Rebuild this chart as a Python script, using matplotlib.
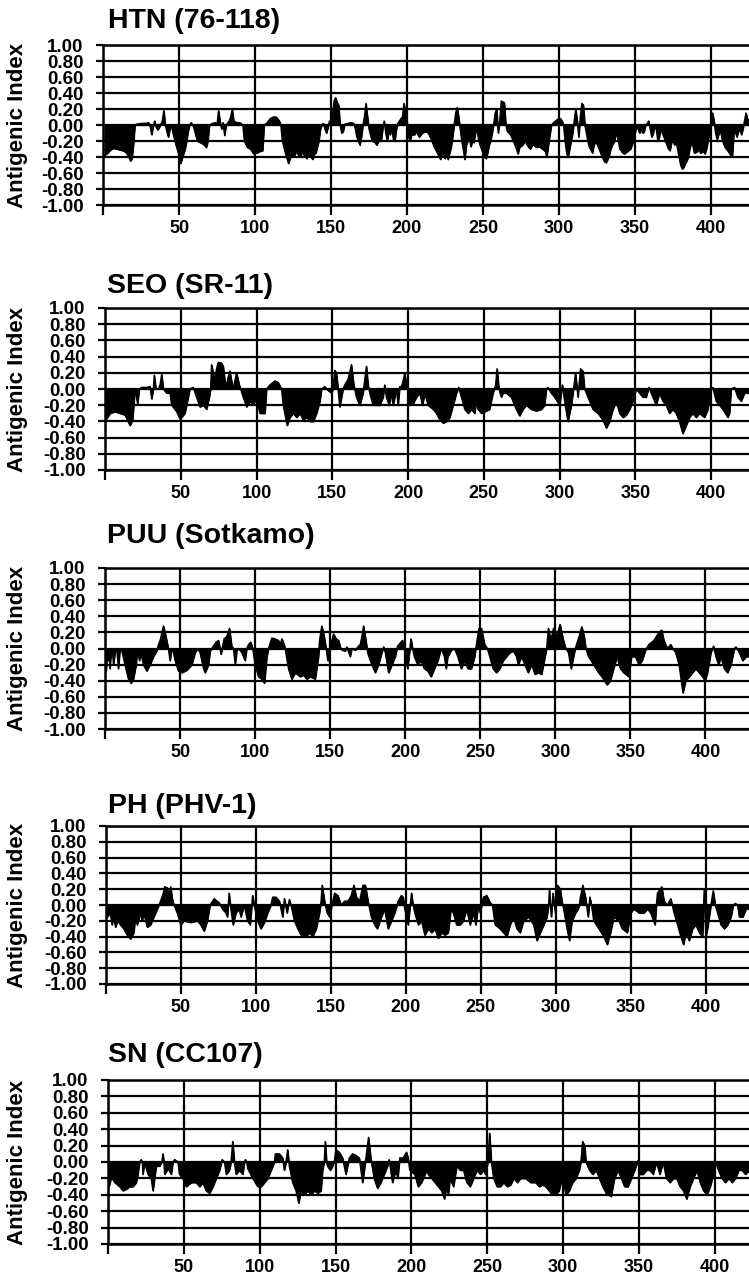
import matplotlib
matplotlib.use('Agg')
import matplotlib.pyplot as plt

plt.rcParams['font.family'] = ['Liberation Sans', 'DejaVu Sans']
plt.rcParams['font.weight'] = 'bold'
plt.rcParams['axes.unicode_minus'] = False

titles = ['HTN (76-118)', 'SEO (SR-11)', 'PUU (Sotkamo)', 'PH (PHV-1)', 'SN (CC107)']
ylabel = 'Antigenic Index'
xticks = [0, 50, 100, 150, 200, 250, 300, 350, 400]
xticklabels = ['', '50', '100', '150', '200', '250', '300', '350', '400']
yticks = [-1.0, -0.8, -0.6, -0.4, -0.2, 0.0, 0.2, 0.4, 0.6, 0.8, 1.0]

# antigenic index profiles, (residue, index)
htn = [(1,-0.38),(3,-0.35),(5,-0.31),(7,-0.29),(9,-0.30),(11,-0.31),(13,-0.32),(15,-0.34),(17,-0.40),(18,-0.45),(19,-0.42),(20,-0.25),(21,0.0),(22,0.01),(25,0.02),(28,0.02),(30,0.03),(31,-0.02),(32,-0.12),(33,-0.02),(34,0.05),(35,-0.03),(36,-0.06),(37,-0.03),(39,0.05),(40,0.18),(41,0.0),(42,-0.08),(43,-0.15),(44,-0.05),(45,0.0),(46,-0.10),(48,-0.25),(50,-0.38),(51,-0.48),(52,-0.42),(54,-0.30),(55,-0.20),(56,-0.08),(57,0.0),(58,0.03),(59,0.0),(60,-0.05),(62,-0.20),(64,-0.22),(66,-0.24),(68,-0.28),(69,-0.20),(70,0.0),(72,0.02),(74,0.03),(75,0.0),(76,0.18),(77,0.05),(78,-0.05),(79,0.03),(80,-0.13),(81,0.0),(83,0.05),(84,0.10),(85,0.20),(86,0.05),(88,0.03),(90,0.03),(92,0.0),(93,-0.20),(95,-0.28),(97,-0.30),(99,-0.36),(100,-0.28),(101,-0.35),(103,-0.33),(105,-0.32),(106,0.0),(108,0.03),(110,0.08),(112,0.10),(114,0.10),(116,0.05),(117,0.0),(118,-0.20),(120,-0.35),(122,-0.48),(123,-0.42),(124,-0.38),(126,-0.38),(127,-0.33),(128,-0.36),(130,-0.40),(131,-0.33),(132,-0.37),(134,-0.42),(135,-0.35),(136,-0.38),(138,-0.43),(139,-0.36),(140,-0.35),(142,-0.20),(143,-0.05),(144,0.0),(145,0.02),(146,-0.05),(147,-0.10),(148,-0.03),(149,0.05),(150,0.02),(151,0.15),(152,0.30),(153,0.34),(154,0.28),(155,0.25),(156,0.0),(157,-0.10),(158,-0.08),(159,0.01),(161,0.02),(163,0.03),(165,0.02),(166,-0.05),(167,-0.15),(169,-0.25),(170,-0.15),(171,0.0),(172,0.10),(173,0.27),(174,0.10),(175,-0.05),(177,-0.20),(179,-0.22),(180,-0.25),(182,-0.18),(183,-0.20),(184,-0.05),(185,0.05),(186,-0.10),(187,-0.20),(188,-0.08),(189,-0.12),(190,-0.03),(191,-0.18),(192,-0.20),(193,-0.05),(194,0.02),(195,0.05),(196,0.08),(197,0.10),(198,0.27),(199,0.15),(200,0.05),(201,-0.15),(202,-0.20),(203,-0.12),(205,-0.12),(206,-0.08),(208,-0.15),(210,-0.10),(212,-0.08),(214,-0.10),(216,-0.18),(218,-0.28),(220,-0.35),(222,-0.43),(223,-0.36),(224,-0.38),(225,-0.42),(226,-0.36),(227,-0.43),(228,-0.35),(229,-0.28),(230,-0.15),(231,0.0),(232,0.15),(233,0.22),(234,0.10),(235,-0.05),(236,-0.20),(237,-0.30),(238,-0.43),(239,-0.25),(240,-0.20),(241,-0.15),(242,-0.27),(243,-0.20),(244,-0.22),(245,-0.10),(246,-0.03),(247,-0.18),(248,-0.25),(249,-0.30),(250,-0.35),(251,-0.40),(252,-0.42),(253,-0.35),(254,-0.25),(255,-0.20),(256,-0.10),(257,0.0),(258,0.15),(259,0.20),(260,-0.10),(261,0.05),(262,0.30),(263,0.29),(264,0.28),(265,0.0),(266,-0.08),(268,-0.12),(270,-0.20),(272,-0.30),(273,-0.36),(274,-0.28),(276,-0.25),(278,-0.20),(279,-0.25),(281,-0.30),(283,-0.24),(285,-0.28),(287,-0.27),(289,-0.30),(291,-0.33),(292,-0.40),(293,-0.25),(294,-0.12),(295,0.0),(297,0.04),(299,0.07),(301,0.08),(302,0.05),(303,0.0),(304,-0.20),(305,-0.35),(306,-0.40),(307,-0.30),(308,-0.20),(309,-0.10),(310,0.05),(311,0.20),(312,0.05),(313,-0.15),(314,0.10),(315,0.27),(316,0.25),(317,0.0),(318,-0.10),(319,-0.20),(320,-0.28),(322,-0.35),(323,-0.25),(324,-0.20),(326,-0.28),(328,-0.38),(329,-0.42),(330,-0.46),(331,-0.47),(332,-0.43),(333,-0.38),(334,-0.30),(335,-0.25),(336,-0.22),(337,-0.15),(338,-0.10),(339,-0.20),(340,-0.30),(342,-0.35),(343,-0.36),(345,-0.33),(347,-0.30),(349,-0.20),(350,-0.10),(351,0.0),(352,-0.05),(353,-0.10),(354,-0.05),(355,-0.10),(356,-0.08),(357,0.0),(358,0.02),(359,0.05),(360,-0.05),(361,-0.15),(362,-0.10),(363,-0.02),(364,-0.05),(365,-0.20),(366,-0.15),(367,-0.05),(368,-0.10),(369,-0.15),(370,-0.20),(371,-0.25),(372,-0.30),(373,-0.32),(374,-0.22),(375,-0.20),(376,-0.25),(377,-0.20),(378,-0.30),(379,-0.40),(380,-0.50),(381,-0.55),(382,-0.53),(383,-0.48),(384,-0.45),(385,-0.40),(386,-0.30),(387,-0.22),(388,-0.25),(389,-0.35),(391,-0.33),(392,-0.30),(393,-0.35),(395,-0.33),(396,-0.36),(397,-0.30),(398,-0.20),(399,-0.10),(400,0.05),(401,0.15),(402,0.05),(403,-0.10),(404,-0.18),(405,-0.12),(406,-0.05),(407,-0.15),(408,-0.22),(409,-0.27),(410,-0.30),(411,-0.32),(412,-0.35),(413,-0.38),(414,-0.40),(415,-0.10),(416,-0.08),(417,-0.15),(418,-0.08),(419,-0.05),(420,-0.12),(421,-0.05),(422,0.05),(423,0.15),(424,0.08),(425,0.05)]

seo = [(0,-0.40),(3.3,-0.30),(6.6,-0.28),(9.9,-0.30),(13.2,-0.32),(16.5,-0.45),(18.2,-0.38),(19.8,0.0),(21.5,-0.18),(22.6,0.0),(24.2,0.02),(27.5,0.02),(29.7,0.03),(30.8,-0.12),(31.9,0.0),(32.5,0.17),(33.6,0.0),(35.2,0.0),(36.3,0.05),(37.4,0.18),(38.5,0.0),(40.7,-0.05),(42.9,-0.05),(44,-0.20),(47.3,-0.28),(49.5,-0.37),(52.7,-0.30),(54.9,-0.10),(56,0.0),(58.2,0.02),(60.4,-0.10),(62.6,-0.22),(64.8,-0.20),(67,-0.25),(68.8,-0.10),(69.7,0.0),(70.3,0.30),(71.4,0.20),(72.5,0.10),(73.6,0.25),(74.7,0.33),(76.9,0.32),(78,0.28),(79.1,0.10),(80.2,0.05),(81.3,0.15),(82.4,0.22),(83.5,0.10),(84.6,0.0),(85.7,0.10),(86.8,0.20),(88.6,0.05),(89.5,0.0),(91.2,-0.10),(93.4,-0.22),(95.6,-0.15),(97.8,-0.20),(100,-0.10),(102.2,-0.30),(105.5,-0.30),(106.6,0.0),(108.8,0.05),(112.1,0.10),(114.3,0.08),(116.5,0.0),(117.6,-0.20),(120.2,-0.45),(122,-0.35),(124.2,-0.30),(126.4,-0.35),(128.6,-0.30),(130.8,-0.38),(133,-0.35),(135.2,-0.40),(137.4,-0.40),(139.6,-0.30),(141.8,-0.15),(142.9,0.0),(145,0.03),(147.3,-0.02),(149.5,-0.05),(150.5,0.0),(151.6,0.23),(152.7,0.20),(153.8,0.0),(154.9,-0.22),(157.1,0.0),(158.2,0.05),(160.4,0.12),(162.6,0.30),(164.2,0.05),(165.9,-0.10),(168.1,-0.20),(170.3,-0.05),(172.5,0.28),(173.6,0.05),(174.7,-0.05),(176.9,-0.20),(181.3,-0.20),(183.5,-0.10),(184.6,0.05),(185.7,-0.10),(187.5,-0.20),(189,-0.05),(190.1,-0.20),(192.3,0.0),(193.4,-0.20),(194.5,0.03),(195.6,0.03),(196.7,0.10),(197.8,0.20),(198.9,0.05),(200,0.0),(201.1,-0.20),(203.3,-0.18),(205.5,-0.10),(207.7,-0.05),(209.5,-0.20),(211,-0.05),(213.2,-0.20),(216.5,-0.25),(218.7,-0.30),(220.9,-0.38),(223.1,-0.42),(225.3,-0.40),(227.5,-0.35),(229.7,-0.20),(231.9,-0.05),(233.4,0.02),(235.2,-0.10),(237.4,-0.25),(239.6,-0.30),(241.8,-0.25),(244,-0.30),(245,-0.15),(246.2,-0.25),(248.4,-0.30),(250.5,-0.28),(253.8,-0.25),(256,-0.05),(257.8,0.05),(258.7,0.25),(260,0.0),(261.5,-0.10),(262.6,-0.05),(264.8,-0.05),(268.1,-0.10),(271.4,-0.25),(273.6,-0.33),(275.8,-0.25),(278,-0.20),(281.3,-0.25),(284.6,-0.27),(287.9,-0.25),(290.1,-0.20),(291.2,0.0),(292.3,0.02),(294.5,-0.05),(296.7,-0.10),(300,-0.20),(301.8,0.05),(303.3,-0.15),(305.5,-0.40),(307.7,-0.20),(309.2,0.0),(310.5,0.20),(312.1,-0.10),(313.8,0.25),(315.4,0.22),(316.5,0.0),(318.7,-0.10),(322,-0.25),(325.3,-0.30),(328.6,-0.38),(330.8,-0.48),(333,-0.40),(335.2,-0.25),(337.4,-0.15),(339.6,-0.30),(341.8,-0.35),(344,-0.32),(346.2,-0.25),(348.4,-0.15),(350.5,0.0),(352.7,-0.05),(354.9,-0.10),(357.1,-0.10),(358.9,0.02),(361.5,-0.10),(363.7,-0.20),(365.9,-0.05),(368.1,-0.15),(370.3,-0.20),(372.5,-0.30),(374.7,-0.25),(376.9,-0.30),(379.1,-0.40),(381.3,-0.55),(383.5,-0.45),(385.7,-0.35),(387.9,-0.30),(390.1,-0.35),(392.3,-0.30),(395.6,-0.35),(397.8,-0.25),(400,0.0),(401.1,0.02),(403.3,-0.15),(405.5,-0.20),(407.7,-0.25),(411,-0.35),(412.1,-0.30),(413.2,0.0),(415.4,0.02),(417.6,-0.10),(419.8,-0.15),(422,-0.05),(424.6,-0.05)]

puu = [(0.7,-0.28),(1.6,-0.05),(2.2,-0.15),(2.9,-0.05),(3.3,-0.25),(4,-0.05),(4.4,-0.10),(5.1,-0.05),(5.6,-0.20),(6.7,-0.05),(7.8,0.0),(8.9,-0.25),(10,0.0),(11.1,-0.02),(13.3,-0.20),(15.6,-0.38),(17.3,-0.43),(18.9,-0.38),(20.7,-0.20),(21.6,0.0),(22.9,-0.15),(23.8,-0.05),(25.6,-0.20),(27.8,-0.28),(30,-0.20),(32.2,-0.10),(34.4,-0.03),(35.6,0.05),(36.7,0.10),(38.9,0.28),(40,0.20),(41.1,0.10),(42.2,0.0),(43.3,-0.15),(44.4,0.0),(45.6,-0.05),(46.7,-0.15),(48.9,-0.28),(51.1,-0.30),(54.4,-0.27),(57.8,-0.20),(60,-0.05),(61.6,0.0),(63.3,-0.05),(65.6,-0.25),(66.7,-0.30),(68.9,-0.20),(70,-0.03),(72.2,0.03),(74,0.08),(75.6,0.10),(77.3,-0.07),(79.3,0.12),(81.1,0.15),(82.9,0.25),(84.4,0.03),(85.6,0.0),(86.7,-0.20),(87.8,-0.02),(88.9,0.0),(91.1,-0.05),(93.3,-0.15),(94.4,0.0),(95.6,0.05),(97.1,0.08),(98.4,0.0),(100,-0.20),(102.2,-0.35),(104.4,-0.38),(106.2,-0.43),(107.8,-0.10),(108.9,0.0),(111.1,0.13),(113.3,0.12),(115.6,0.10),(116.7,0.05),(117.8,0.12),(119.3,0.05),(120,0.0),(122.2,-0.25),(124.4,-0.38),(126.7,-0.30),(130,-0.35),(132.2,-0.33),(134.4,-0.38),(136.7,-0.35),(140,-0.38),(142.2,-0.10),(142.9,0.10),(144.4,0.28),(146,0.15),(147.3,0.0),(148.4,-0.15),(149.6,0.0),(152.2,0.18),(154,0.12),(155.6,0.10),(156.7,0.02),(157.8,-0.02),(160,-0.03),(161.1,0.02),(163.3,-0.10),(164.4,0.0),(166.7,-0.02),(168.9,0.03),(170,0.05),(171.1,0.15),(172.2,0.28),(173.8,0.10),(174.9,-0.05),(176.7,-0.15),(180,-0.30),(182.2,-0.20),(184.4,-0.05),(185.6,0.02),(186.7,-0.05),(188.9,-0.30),(191.1,-0.20),(193.3,-0.10),(194.9,0.03),(197.1,0.08),(198.2,0.10),(199.3,0.0),(201.6,-0.25),(203.8,0.12),(204.9,0.0),(206,-0.10),(208.3,-0.20),(210.5,-0.15),(212.7,-0.25),(215,-0.28),(217.2,-0.35),(219.4,-0.25),(221.7,-0.15),(223.9,0.0),(226.1,-0.10),(227.2,-0.25),(228.3,-0.10),(230.6,-0.02),(232.8,0.0),(235,-0.10),(237.3,-0.25),(239.5,-0.15),(241.7,-0.25),(244,-0.25),(246.2,-0.10),(247.8,0.10),(249.1,0.25),(250.7,0.25),(252.9,0.05),(254.7,0.0),(256.3,-0.10),(258.5,-0.25),(260.7,-0.30),(262.9,-0.25),(265.2,-0.15),(267.4,-0.10),(269.6,-0.05),(271.9,-0.03),(274.1,-0.10),(275.2,-0.20),(277.5,-0.10),(279.7,-0.20),(281.9,-0.30),(284.2,-0.20),(286.4,-0.32),(288.6,-0.30),(290.8,-0.32),(293.1,-0.10),(294.2,0.0),(295.3,0.25),(297.1,0.10),(298.7,0.25),(300.9,0.15),(303.1,0.30),(305.4,0.10),(306.9,0.0),(308.7,-0.05),(310.5,-0.25),(312.1,-0.10),(313.2,0.0),(315,0.10),(317.6,0.27),(319.2,0.15),(320.3,0.0),(322.1,-0.10),(325.4,-0.20),(328.8,-0.30),(331,-0.35),(334.4,-0.45),(336.6,-0.40),(338.8,-0.25),(341.1,-0.10),(343.3,-0.25),(345.5,-0.30),(348.9,-0.35),(350.7,-0.10),(353.3,-0.10),(355.6,-0.20),(357.8,-0.15),(360,-0.02),(362.3,0.05),(365.6,0.10),(369,0.20),(370.8,0.23),(372.3,0.10),(374.6,0.0),(376.8,0.05),(378.3,0.0),(380.1,-0.05),(382.4,-0.20),(383.5,-0.35),(385,-0.55),(386.8,-0.40),(389.1,-0.35),(391.3,-0.30),(393.5,-0.25),(395.8,-0.30),(398,-0.35),(399.8,-0.40),(401.3,-0.30),(403.6,-0.05),(405.4,0.03),(406.9,-0.10),(408.7,-0.20),(410.3,-0.10),(412.5,-0.25),(414.7,-0.30),(417,-0.20),(419.2,0.0),(420.3,0.02),(422.5,-0.05),(424.8,-0.15),(427,-0.10),(429,-0.10)]

ph = [(0.7,-0.15),(2.9,-0.10),(4,-0.25),(5.1,-0.15),(6.3,-0.28),(7.8,-0.20),(9.6,-0.25),(11.8,-0.30),(14.1,-0.38),(16.3,-0.43),(18.5,-0.35),(19.6,-0.15),(20.8,-0.25),(23,-0.10),(24.1,-0.20),(25.2,-0.10),(27.5,-0.28),(29.7,-0.25),(31.9,-0.15),(34.2,-0.05),(35.3,0.0),(36.4,0.05),(38.2,0.15),(39.1,0.23),(40.8,0.22),(42,0.10),(43.1,0.23),(44.2,0.08),(45.3,0.0),(47.5,-0.10),(49.8,-0.25),(52,-0.20),(56.5,-0.22),(60.9,-0.20),(63.2,-0.25),(65.4,-0.33),(67.6,-0.20),(69.4,0.0),(72.1,0.08),(75.4,0.03),(77.7,-0.05),(79.9,-0.10),(81,-0.15),(82.1,0.15),(83.3,-0.05),(84.8,-0.25),(86.6,-0.10),(88.8,-0.05),(90,-0.15),(92.2,0.0),(94.4,-0.20),(96.2,-0.25),(97.8,0.12),(98.9,0.0),(101.1,-0.20),(103.3,-0.30),(105.6,-0.22),(107.8,-0.10),(108.9,-0.05),(110,0.0),(111.2,0.10),(113.4,0.10),(115.6,0.05),(117.9,-0.15),(119,0.08),(120.8,-0.10),(122.3,0.07),(123.4,0.0),(125.7,-0.20),(127.9,-0.30),(130.1,-0.38),(133.5,-0.40),(135.7,-0.35),(137.9,-0.40),(140.2,-0.30),(142.4,-0.10),(143.5,0.05),(144.2,0.25),(145.8,0.05),(147.5,-0.10),(149.1,-0.15),(150.7,0.0),(152.5,0.15),(154.7,0.12),(156.9,0.0),(159.2,0.05),(161.4,0.05),(163.6,0.12),(165.4,0.25),(167,0.10),(169.2,0.05),(171.4,0.25),(173,0.25),(174.8,0.05),(177,-0.15),(179.2,-0.25),(181,-0.30),(183.7,-0.15),(185.9,-0.05),(188.2,-0.30),(190.4,-0.20),(192.6,-0.10),(194.9,0.05),(197.1,0.12),(198.2,0.10),(199.3,-0.05),(201.6,-0.25),(203.8,0.15),(204.9,0.0),(206,-0.10),(208.3,-0.25),(210.5,-0.20),(212.7,-0.38),(215,-0.30),(217.2,-0.35),(219.4,-0.30),(221.7,-0.42),(223.9,-0.35),(226.1,-0.38),(228.3,-0.35),(230.1,-0.05),(231.7,-0.10),(233.9,-0.25),(236.2,-0.25),(238.4,-0.20),(240.6,-0.05),(242.9,-0.25),(245.1,-0.10),(246.7,-0.25),(248.4,0.0),(249.6,-0.10),(251.8,0.10),(254,0.12),(256.3,0.03),(257.8,0.0),(259.6,-0.25),(262.9,-0.30),(265.2,-0.35),(267.4,-0.40),(269.6,-0.25),(271.9,-0.15),(274.1,-0.30),(276.3,-0.35),(278.6,-0.20),(281.9,-0.15),(285.3,-0.25),(287.5,-0.45),(289.7,-0.35),(292,-0.25),(294.2,-0.15),(295.3,0.0),(295.8,0.20),(297.1,-0.15),(298.2,0.15),(299.8,-0.10),(301.3,0.25),(303.1,0.20),(304.2,0.05),(305.8,-0.10),(307.6,-0.30),(309.2,-0.45),(310.9,-0.20),(313.2,-0.10),(315,-0.05),(315.8,0.0),(316.5,0.10),(318.1,0.25),(319.9,0.10),(321.7,-0.15),(322.8,0.10),(323.9,0.0),(325.4,-0.20),(328.8,-0.30),(332.1,-0.40),(334.4,-0.50),(336.6,-0.35),(338.8,-0.15),(342.2,-0.20),(344.4,-0.30),(347.8,-0.35),(350,-0.10),(352.2,-0.05),(355.6,-0.10),(358.9,-0.10),(361.2,-0.05),(363.4,-0.10),(366.3,-0.25),(367.2,0.0),(367.9,0.15),(370.8,0.23),(372.3,0.05),(374.6,0.0),(376.8,0.08),(379,-0.10),(381.3,-0.25),(383.5,-0.40),(385.3,-0.50),(386.8,-0.35),(389.1,-0.45),(391.3,-0.30),(393.5,-0.25),(395.8,-0.35),(398,-0.40),(399.1,0.20),(400.2,-0.40),(401.3,-0.30),(403.6,0.0),(405.1,0.18),(406.5,0.0),(408,-0.10),(410.3,-0.25),(412.5,-0.30),(414.7,-0.25),(417,-0.15),(418.5,0.0),(419.9,0.02),(421.4,0.0),(422.5,-0.15),(424.8,-0.15),(427,-0.05),(429,-0.05)]

sn = [(0.7,-0.30),(2.2,-0.18),(4.4,-0.25),(7.7,-0.30),(9.9,-0.35),(12.1,-0.33),(14.3,-0.30),(16.4,-0.30),(18.6,-0.25),(19.7,-0.15),(20.8,0.0),(21.9,0.03),(22.6,0.0),(23,-0.15),(24.1,0.0),(26.3,-0.15),(28.5,-0.20),(29.6,-0.35),(30.7,-0.20),(31.8,-0.05),(34,-0.05),(35.5,0.0),(36.2,0.10),(36.8,0.0),(37.3,-0.15),(39.5,-0.08),(41.7,-0.15),(42.8,0.0),(43.9,0.03),(46.1,0.0),(47.1,-0.15),(49.3,-0.20),(51.5,-0.30),(54.8,-0.25),(58.1,-0.25),(60.3,-0.30),(62.5,-0.25),(64.7,-0.35),(66.9,-0.38),(69.1,-0.30),(71.3,-0.20),(73.5,-0.10),(75.2,0.03),(76.8,0.0),(77.9,-0.15),(80,-0.10),(81.1,0.0),(82.2,0.25),(83.3,0.0),(84.4,-0.15),(86.6,-0.10),(88.8,-0.15),(89.9,0.0),(90.6,0.03),(91.4,0.0),(92.1,-0.08),(95.4,-0.20),(98.7,-0.30),(100.9,-0.30),(103.1,-0.25),(105.3,-0.20),(107.5,-0.10),(108.6,-0.05),(109.6,0.0),(110.3,0.10),(112.9,0.10),(115.1,0.05),(116.2,-0.10),(117.3,0.0),(118.4,0.15),(119.5,-0.05),(121.7,-0.25),(123.9,-0.35),(125.7,-0.50),(127.2,-0.35),(129.4,-0.40),(131.6,-0.35),(133.8,-0.40),(136,-0.35),(138.2,-0.38),(140.4,-0.35),(141.4,-0.10),(142.5,0.0),(143.2,0.25),(144.1,0.0),(144.7,-0.05),(146.5,-0.10),(148,-0.05),(149.1,0.0),(150.2,0.15),(152.4,0.12),(154.6,0.05),(156.8,-0.15),(159,0.05),(161.2,0.10),(163.4,0.08),(165.6,0.05),(167.8,-0.25),(170,0.05),(171.7,0.30),(173.2,0.05),(175.4,-0.20),(177.6,-0.32),(179.8,-0.25),(182,-0.15),(184.2,-0.05),(185.3,0.03),(187.5,-0.25),(189.7,-0.10),(191,-0.20),(192.3,0.05),(194.5,0.05),(196.7,0.12),(197.8,0.05),(198.9,-0.10),(202.2,-0.15),(204.4,-0.30),(206.6,-0.25),(210,-0.10),(211.1,-0.15),(213.3,-0.20),(215.5,-0.25),(217.7,-0.30),(219.9,-0.35),(221.7,-0.45),(223.2,-0.30),(224.3,-0.40),(225.4,-0.20),(227.7,-0.30),(229.9,-0.05),(232.1,-0.10),(234.3,-0.10),(236.5,-0.25),(238.7,-0.30),(240.9,-0.20),(243.1,-0.10),(245.4,-0.15),(247.6,-0.10),(248.7,-0.15),(250.4,0.0),(251.5,0.35),(252.7,0.0),(254.2,-0.20),(256.4,-0.30),(258.6,-0.30),(260.8,-0.25),(263.1,-0.30),(265.3,-0.28),(267.5,-0.20),(269.7,-0.25),(271.9,-0.20),(275.2,-0.20),(278.5,-0.25),(281.9,-0.25),(284.1,-0.30),(286.3,-0.28),(288.5,-0.30),(290.7,-0.35),(292.9,-0.40),(295.1,-0.40),(297.3,-0.35),(299.1,-0.20),(300.7,-0.30),(301.8,-0.40),(304,-0.35),(306.2,-0.25),(308.4,-0.20),(310.6,-0.10),(311.7,0.0),(312.8,0.25),(314.2,0.20),(315,0.0),(317.3,-0.10),(319.5,-0.15),(321.7,-0.10),(323.9,-0.20),(326.1,-0.30),(328.3,-0.38),(331.6,-0.42),(333.8,-0.20),(336.1,-0.10),(338.3,-0.20),(340.5,-0.30),(342.7,-0.30),(344.9,-0.20),(347.1,-0.10),(349.3,0.02),(350.4,-0.15),(352.7,-0.15),(354.9,-0.10),(357.1,-0.10),(359.3,-0.15),(361.5,0.0),(363.7,-0.15),(365.9,0.0),(368.1,-0.20),(370.4,-0.25),(372.6,-0.20),(374.8,-0.20),(377,-0.30),(379.2,-0.35),(381.4,-0.45),(383.6,-0.30),(385.8,-0.20),(388.1,-0.10),(390.3,-0.25),(392.5,-0.35),(394.7,-0.40),(396.9,-0.30),(399.1,-0.15),(400.2,0.0),(402.4,-0.10),(404.6,-0.20),(406.9,-0.25),(409.1,-0.20),(411.3,-0.25),(413.5,-0.20),(415.7,-0.10),(417.9,-0.10),(420.1,-0.15),(422.8,-0.10)]

series = [htn, seo, puu, ph, sn]

W, H = 749, 1275
# panel geometry in pixels: left, top, bottom, last residue shown
boxes = [(103, 45, 205, 425), (105, 308, 470, 425), (105, 568, 729, 429),
         (106, 826, 984, 429), (108, 1080, 1244, 422.5)]
title_xy = [(108, 28), (107, 293), (107, 543), (108, 813), (108, 1062)]

fig = plt.figure(figsize=(W / 100, H / 100), dpi=100)

for i, pts in enumerate(series):
    l, t, b, xmax = boxes[i]
    ax = fig.add_axes([l / W, 1 - b / H, (W - l) / W, (b - t) / H])
    xs = [p[0] for p in pts]
    ys = [p[1] for p in pts]
    ax.fill_between(xs, ys, 0, color='black', lw=0.8)
    ax.plot(xs, ys, color='black', lw=1.0)
    ax.set_xlim(0, xmax)
    ax.set_ylim(-1, 1)
    ax.set_xticks(xticks)
    ax.set_xticklabels(xticklabels)
    ax.set_yticks(yticks)
    ax.set_yticklabels(['%.2f' % v for v in yticks])
    ax.grid(True, color='black', lw=1.6)
    for s in ['left', 'top', 'bottom']:
        ax.spines[s].set_linewidth(1.8)
    ax.spines['right'].set_visible(False)
    ax.tick_params(axis='y', direction='out', length=5, width=1.6, pad=9, labelsize=13.5)
    ax.tick_params(axis='x', direction='out', length=7, width=1.6, pad=4, labelsize=13)
    for lab in ax.get_xticklabels() + ax.get_yticklabels():
        lab.set_fontweight('bold')

    tx, ty = title_xy[i]
    fig.text(tx / W, 1 - ty / H, titles[i], fontsize=20.5, fontweight='bold', va='baseline', ha='left')
    fig.text(18 / W, 1 - (t + b) / 2 / H, ylabel, rotation=90, fontsize=16,
             fontweight='bold', va='center', ha='center')

fig.savefig('out.png', dpi=100, facecolor='white')
